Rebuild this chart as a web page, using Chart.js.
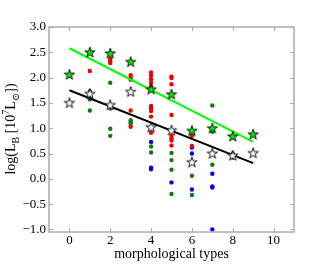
<!DOCTYPE html>
<html>
<head>
<meta charset="utf-8">
<script src="https://cdn.jsdelivr.net/npm/chart.js@4"></script>
<style>
  html, body { margin: 0; padding: 0; background: #fff; }
</style>
</head>
<body>
<canvas id="chart" width="327" height="273"></canvas>
<script>
// tick positions
const xTicks = [0, 2, 4, 6, 8, 10];
const yTicks = [-1.0, -0.5, 0.0, 0.5, 1.0, 1.5, 2.0, 2.5, 3.0];

// stars: one per morphological type
const starTypes = [0, 1, 2, 3, 4, 5, 6, 7, 8, 9];
const greenStars = [2.07, 2.51, 2.49, 2.32, 1.78, 1.68, 0.96, 1.01, 0.85, 0.89];
const whiteStars = [1.51, 1.69, 1.47, 1.73, 1.03, 0.97, 0.34, 0.51, 0.47, 0.52];

// individual galaxies
const redTypes = [1, 2, 2, 2, 3, 3, 3, 3, 3, 4, 4, 4, 4, 4, 4, 4, 4, 4, 4, 5, 5, 5, 5, 5, 5, 5, 5, 6, 6];
const redLum = [2.13, 2.37, 2.33, 2.29, 2.05, 2.00, 1.96, 1.35, 1.03, 2.10, 2.04, 1.97, 1.90, 1.83, 1.44, 1.39, 1.34, 1.23, 0.91,
  2.02, 1.99, 1.87, 1.26, 0.85, 0.80, 0.76, 0.66, 0.85, 0.65];
const greenTypes = [1, 1, 1, 2, 2, 2, 2, 3, 3, 3, 4, 4, 5, 5, 5, 5, 6, 6, 7, 7, 7, 8];
const greenLum = [1.73, 1.57, 1.35, 1.90, 1.39, 0.99, 0.85, 1.16, 1.12, 1.09, 0.64, 0.52, 0.51, 0.37, 0.18, -0.30, 0.06, -0.32,
  1.45, 0.93, 0.28, 0.50];
const blueTypes = [1, 4, 4, 4, 5, 6, 6, 6, 7, 7, 7, 7, 8];
const blueLum = [1.62, 0.73, 0.22, 0.19, -0.07, 0.62, 0.50, -0.21, 0.10, -0.15, -0.17, -1.00, 0.42];

// fit lines (end points)
const fitTypes = [0, 9];
const greenFit = [2.58, 0.73];
const blackFit = [1.75, 0.31];

const pts = (xs, ys) => xs.map((v, i) => ({ x: v, y: ys[i] }));

function starImage(fill) {
  const size = 16, r = 5.5;
  const cv = document.createElement('canvas');
  cv.width = size; cv.height = size;
  const g = cv.getContext('2d');
  g.beginPath();
  for (let i = 0; i < 10; i++) {
    const rad = i % 2 ? r * 0.382 : r;
    const a = -Math.PI / 2 + i * Math.PI / 5;
    const px = size / 2 + rad * Math.cos(a);
    const py = size / 2 + 0.8 + rad * Math.sin(a);
    if (i) g.lineTo(px, py); else g.moveTo(px, py);
  }
  g.closePath();
  g.fillStyle = fill;
  g.fill();
  g.lineWidth = 0.9;
  g.strokeStyle = '#000';
  g.stroke();
  return cv;
}

const serif = "'Liberation Serif', 'DejaVu Serif', serif";

// frame with inward ticks and the y title with sub/superscripts
const frame = {
  id: 'frame',
  afterDraw(chart) {
    const { ctx, chartArea: a, scales: { x, y } } = chart;
    ctx.save();
    ctx.strokeStyle = '#aaaaaa';
    ctx.lineWidth = 1.5;
    ctx.strokeRect(a.left, a.top, a.right - a.left, a.bottom - a.top);
    ctx.lineWidth = 1;
    ctx.beginPath();
    xTicks.forEach(v => {
      const p = Math.round(x.getPixelForValue(v)) + 0.5;
      ctx.moveTo(p, a.bottom); ctx.lineTo(p, a.bottom - 4);
      ctx.moveTo(p, a.top); ctx.lineTo(p, a.top + 4);
    });
    yTicks.forEach(v => {
      const p = Math.round(y.getPixelForValue(v)) + 0.5;
      ctx.moveTo(a.left, p); ctx.lineTo(a.left + 4, p);
      ctx.moveTo(a.right, p); ctx.lineTo(a.right - 4, p);
    });
    ctx.stroke();

    const parts = [
      ['log(L', 0], ['B', 1], [' [10', 0], ['7', -1], ['L', 0], ['\u2299', 1], ['])', 0]
    ];
    const big = '14px ' + serif, small = '10px ' + serif;
    let total = 0;
    parts.forEach(p => { ctx.font = p[1] ? small : big; p.push(ctx.measureText(p[0]).width); total += p[2]; });
    ctx.translate(15, 129);
    ctx.rotate(-Math.PI / 2);
    ctx.fillStyle = '#000';
    ctx.textBaseline = 'alphabetic';
    let cx = -total / 2;
    parts.forEach(p => {
      ctx.font = p[1] ? small : big;
      ctx.fillText(p[0], cx, p[1] * 4 - (p[1] < 0 ? 2 : 0));
      cx += p[2];
    });
    ctx.restore();
  }
};

new Chart(document.getElementById('chart'), {
  type: 'scatter',
  data: {
    datasets: [
      {
        data: pts(starTypes, greenStars),
        pointStyle: starImage('#00ee00'),
        order: 0
      },
      {
        data: pts(starTypes, whiteStars),
        pointStyle: starImage('#ffffff'),
        order: 0
      },
      {
        type: 'line',
        data: pts(fitTypes, greenFit),
        borderColor: '#00ff00',
        borderWidth: 2,
        pointRadius: 0,
        order: 1
      },
      {
        type: 'line',
        data: pts(fitTypes, blackFit),
        borderColor: '#000000',
        borderWidth: 2,
        pointRadius: 0,
        order: 1
      },
      {
        data: pts(redTypes, redLum),
        backgroundColor: '#ee0000',
        borderWidth: 0,
        pointRadius: 2.2,
        order: 2
      },
      {
        data: pts(greenTypes, greenLum),
        backgroundColor: '#137a13',
        borderWidth: 0,
        pointRadius: 2.2,
        order: 2
      },
      {
        data: pts(blueTypes, blueLum),
        backgroundColor: '#0000ee',
        borderWidth: 0,
        pointRadius: 2.2,
        order: 2
      }
    ]
  },
  options: {
    responsive: false,
    animation: false,
    devicePixelRatio: 1,
    layout: { padding: { top: 27, right: 33, left: 0, bottom: 0 } },
    plugins: { legend: { display: false }, tooltip: { enabled: false } },
    scales: {
      x: {
        type: 'linear',
        min: -1,
        max: 11,
        afterFit: s => { s.height = 41; },
        afterBuildTicks: s => { s.ticks = xTicks.map(v => ({ value: v })); },
        grid: { display: false, drawTicks: false },
        border: { display: false },
        ticks: {
          color: '#000',
          padding: 1,
          maxRotation: 0,
          font: { family: serif, size: 13 },
          callback: v => String(v)
        },
        title: {
          display: true,
          text: 'morphological types',
          color: '#000',
          font: { family: serif, size: 14 },
          padding: { top: 0, bottom: 10 }
        }
      },
      y: {
        type: 'linear',
        min: -1.05,
        max: 3.0,
        afterFit: s => { s.width = 49; },
        afterBuildTicks: s => { s.ticks = yTicks.map(v => ({ value: v })); },
        grid: { display: false, drawTicks: false },
        border: { display: false },
        ticks: {
          color: '#000',
          padding: 3,
          font: { family: serif, size: 13 },
          callback: v => v.toFixed(1).replace('-', '\u2212')
        }
      }
    }
  },
  plugins: [frame]
});
</script>
</body>
</html>
